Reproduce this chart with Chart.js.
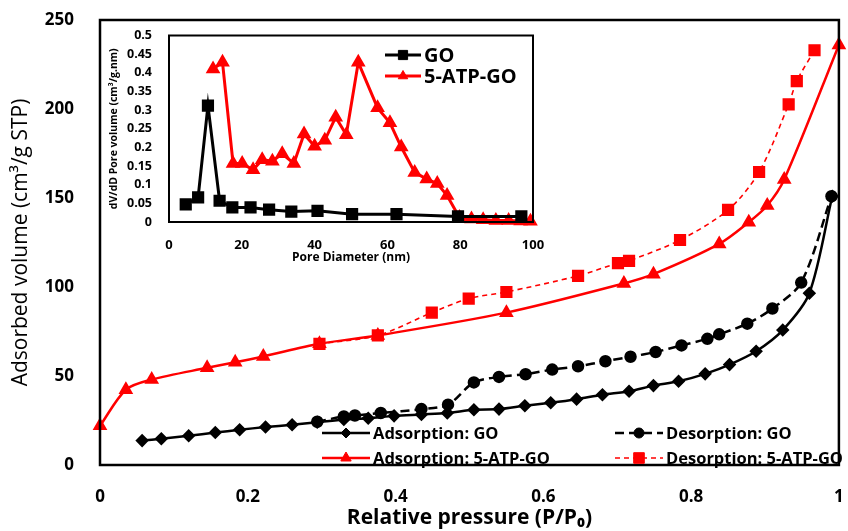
<!DOCTYPE html>
<html>
<head>
<meta charset="utf-8">
<script src="https://cdn.jsdelivr.net/npm/chart.js@4.4.1/dist/chart.umd.min.js"></script>
<style>
  body { margin: 0; background: #fff; }
  #wrap { position: relative; width: 848px; height: 531px; }
  #main { position: absolute; left: 0; top: 0; }
  #inset { position: absolute; left: 106px; top: 26px; }
</style>
</head>
<body>
<div id="wrap">
  <canvas id="main" width="848" height="531"></canvas>
  <canvas id="inset" width="440" height="240"></canvas>
</div>
<script>
// main isotherm data (relative pressure, adsorbed volume)
const adsGoP = [0.057, 0.083, 0.120, 0.156, 0.189, 0.224, 0.260, 0.294, 0.330, 0.363, 0.398, 0.435, 0.470, 0.506, 0.540, 0.575, 0.610, 0.645, 0.680, 0.716, 0.749, 0.783, 0.819, 0.852, 0.888, 0.924, 0.960, 0.991];
const adsGoV = [13.7, 14.8, 16.4, 18.2, 19.8, 21.3, 22.6, 24.0, 25.6, 26.3, 27.6, 28.4, 29.2, 31.0, 31.4, 33.3, 35.0, 37.0, 39.5, 41.4, 44.6, 47.0, 51.2, 56.4, 63.9, 75.8, 96.5, 151];

const desGoP = [0.294, 0.330, 0.345, 0.380, 0.435, 0.471, 0.506, 0.540, 0.576, 0.612, 0.647, 0.684, 0.718, 0.752, 0.787, 0.822, 0.838, 0.876, 0.910, 0.949, 0.990];
const desGoV = [24.3, 27.3, 27.8, 29.2, 31.4, 33.9, 46.4, 49.5, 51.0, 53.6, 55.5, 58.3, 60.8, 63.5, 67.2, 70.9, 73.4, 79.4, 87.9, 102.5, 151];

const adsAtpP = [0.000, 0.035, 0.070, 0.145, 0.183, 0.221, 0.297, 0.376, 0.550, 0.709, 0.749, 0.838, 0.878, 0.903, 0.926, 1.000];
const adsAtpV = [22, 42.3, 48, 54.6, 57.7, 61, 68.1, 72.8, 85.6, 102, 107.2, 124.2, 136.4, 145.8, 160.4, 236];

const desAtpP = [0.297, 0.376, 0.449, 0.499, 0.550, 0.647, 0.701, 0.716, 0.785, 0.850, 0.892, 0.932, 0.943, 0.967];
const desAtpV = [68.1, 72.8, 85.6, 93.5, 97.2, 106.3, 113.4, 114.7, 126.4, 143.3, 164.6, 202.6, 215.7, 233];

// inset pore size distribution
const psdGoD = [4.6, 8.0, 10.7, 13.9, 17.4, 22.4, 27.5, 33.6, 40.8, 50.3, 62.5, 79.4, 96.8];
const psdGoV = [0.047, 0.066, 0.312, 0.057, 0.039, 0.039, 0.033, 0.028, 0.030, 0.021, 0.021, 0.015, 0.015];

const psdAtpD = [12.1, 14.7, 17.6, 20.1, 23.1, 25.6, 28.4, 31.1, 34.3, 37.1, 40.0, 42.8, 45.8, 48.7, 52.0, 57.3, 60.7, 63.8, 67.5, 70.8, 73.7, 76.4, 79.8, 83.1, 86.3, 89.8, 93.3, 96.6, 99.3];
const psdAtpV = [0.41, 0.428, 0.157, 0.157, 0.14, 0.167, 0.163, 0.183, 0.157, 0.236, 0.203, 0.219, 0.281, 0.234, 0.428, 0.306, 0.266, 0.201, 0.133, 0.115, 0.103, 0.071, 0.012, 0.008, 0.006, 0.004, 0.004, 0.003, 0.002];

const mainLabels = ['Adsorption: GO', 'Desorption: GO', 'Adsorption: 5-ATP-GO', 'Desorption: 5-ATP-GO'];
const insetLabels = ['GO', '5-ATP-GO'];

const RED = '#ff0000';
const FONT = "'Open Sans', 'Liberation Sans', sans-serif";

function pts(xs, ys) {
    return xs.map((x, i) => ({ x: x, y: ys[i] }));
}

function trimNum(v) {
    return String(+v.toFixed(2));
}

// fixed axis boxes, no overhang padding from tick labels
function fitX(h) {
    return s => { s.height = h; s.paddingLeft = 0; s.paddingRight = 0; };
}
function fitY(w) {
    return s => { s.width = w; s.paddingTop = 0; s.paddingBottom = 0; };
}

// frame around plot area
const framePlugin = {
    id: 'frame',
    afterDraw(chart, args, opts) {
        const a = chart.chartArea;
        const ctx = chart.ctx;
        ctx.save();
        ctx.strokeStyle = '#000';
        ctx.lineWidth = opts.width || 2;
        ctx.strokeRect(a.left, a.top, a.right - a.left, a.bottom - a.top);
        ctx.restore();
    }
};

// legend drawn at fixed spots, using each dataset's own style
const boxLegend = {
    id: 'boxLegend',
    afterDraw(chart, args, opts) {
        const ctx = chart.ctx;
        opts.items.forEach(it => {
            const ds = chart.data.datasets[it.ds];
            ctx.save();
            ctx.strokeStyle = ds.borderColor;
            ctx.lineWidth = ds.borderWidth;
            ctx.setLineDash(ds.borderDash || []);
            ctx.beginPath();
            ctx.moveTo(it.x, it.y);
            ctx.lineTo(it.x + opts.len, it.y);
            ctx.stroke();
            ctx.setLineDash([]);
            ctx.fillStyle = ds.backgroundColor;
            ctx.lineWidth = 1;
            Chart.helpers.drawPoint(ctx, {
                pointStyle: ds.pointStyle,
                radius: ds.pointRadius,
                rotation: 0,
                borderWidth: 1
            }, it.x + opts.len / 2, it.y);
            ctx.fillStyle = '#000';
            ctx.font = opts.font;
            ctx.textBaseline = 'middle';
            ctx.fillText(ds.label, it.x + opts.len + 3, it.y + 1);
            ctx.restore();
        });
    }
};

new Chart(document.getElementById('main'), {
    type: 'scatter',
    data: {
        datasets: [{
            label: mainLabels[0],
            data: pts(adsGoP, adsGoV),
            showLine: true,
            borderColor: '#000',
            backgroundColor: '#000',
            borderWidth: 2.5,
            pointStyle: 'rectRot',
            pointRadius: 5,
            tension: 0.3,
            clip: false
        }, {
            label: mainLabels[1],
            data: pts(desGoP, desGoV),
            showLine: true,
            borderColor: '#000',
            backgroundColor: '#000',
            borderWidth: 2.5,
            borderDash: [9, 5],
            pointStyle: 'circle',
            pointRadius: 5,
            tension: 0.3,
            clip: false
        }, {
            label: mainLabels[2],
            data: pts(adsAtpP, adsAtpV),
            showLine: true,
            borderColor: RED,
            backgroundColor: RED,
            borderWidth: 2.5,
            pointStyle: 'triangle',
            pointRadius: 6,
            tension: 0.3,
            clip: false
        }, {
            label: mainLabels[3],
            data: pts(desAtpP, desAtpV),
            showLine: true,
            borderColor: RED,
            backgroundColor: RED,
            borderWidth: 1.6,
            borderDash: [5, 4],
            pointStyle: 'rect',
            pointRadius: 7.5,
            tension: 0.3,
            clip: false
        }]
    },
    options: {
        responsive: false,
        animation: false,
        devicePixelRatio: 1,
        layout: { padding: { top: 20, right: 3, left: 0, bottom: 0 } },
        plugins: {
            legend: { display: false },
            tooltip: { enabled: false },
            frame: { width: 2.5 },
            boxLegend: {
                len: 48,
                font: 'bold 16.5px ' + FONT,
                items: [
                    { ds: 0, x: 322, y: 433 },
                    { ds: 1, x: 615, y: 433 },
                    { ds: 2, x: 322, y: 458 },
                    { ds: 3, x: 615, y: 458 }
                ]
            }
        },
        scales: {
            x: {
                type: 'linear',
                min: 0,
                max: 1,
                ticks: {
                    stepSize: 0.2,
                    color: '#000',
                    padding: 14,
                    font: { family: FONT, size: 17, weight: 'bold' },
                    callback: v => trimNum(v)
                },
                grid: { display: false },
                border: { display: false },
                title: {
                    display: true,
                    text: 'Relative pressure (P/P\u2080)',
                    color: '#000',
                    font: { family: FONT, size: 21, weight: 'bold' },
                    padding: { top: 0, bottom: 0 }
                },
                afterFit: fitX(66)
            },
            y: {
                min: 0,
                max: 250,
                ticks: {
                    stepSize: 50,
                    color: '#000',
                    padding: 18,
                    font: { family: FONT, size: 17, weight: 'bold' }
                },
                grid: { display: false },
                border: { display: false },
                title: {
                    display: true,
                    text: 'Adsorbed volume (cm\u00b3/g STP)',
                    color: '#000',
                    font: { family: FONT, size: 21 },
                    padding: { top: 8, bottom: 0 }
                },
                afterFit: fitY(100)
            }
        }
    },
    plugins: [framePlugin, boxLegend]
});

new Chart(document.getElementById('inset'), {
    type: 'scatter',
    data: {
        datasets: [{
            label: insetLabels[0],
            data: pts(psdGoD, psdGoV),
            showLine: true,
            borderColor: '#000',
            backgroundColor: '#000',
            borderWidth: 3,
            pointStyle: 'rect',
            pointRadius: 6.5,
            tension: 0,
            clip: false
        }, {
            label: insetLabels[1],
            data: pts(psdAtpD, psdAtpV),
            showLine: true,
            borderColor: RED,
            backgroundColor: RED,
            borderWidth: 3,
            pointStyle: 'triangle',
            pointRadius: 5.5,
            tension: 0,
            clip: false
        }]
    },
    options: {
        responsive: false,
        animation: false,
        devicePixelRatio: 1,
        layout: { padding: { top: 8, right: 13, left: 0, bottom: 0 } },
        plugins: {
            legend: { display: false },
            tooltip: { enabled: false },
            frame: { width: 2 },
            boxLegend: {
                len: 36,
                font: 'bold 20px ' + FONT,
                items: [
                    { ds: 0, x: 279, y: 29 },
                    { ds: 1, x: 279, y: 50 }
                ]
            }
        },
        scales: {
            x: {
                type: 'linear',
                min: 0,
                max: 100,
                ticks: {
                    stepSize: 20,
                    color: '#000',
                    padding: 7,
                    font: { family: FONT, size: 13, weight: 'bold' }
                },
                grid: { display: false },
                border: { display: false },
                title: {
                    display: true,
                    text: 'Pore Diameter (nm)',
                    color: '#000',
                    font: { family: FONT, size: 12, weight: 'bold' },
                    padding: { top: 0, bottom: 1 }
                },
                afterFit: fitX(44)
            },
            y: {
                min: 0,
                max: 0.5,
                ticks: {
                    stepSize: 0.05,
                    autoSkip: false,
                    color: '#000',
                    padding: 9,
                    font: { family: FONT, size: 12.5, weight: 'bold' },
                    callback: v => trimNum(v)
                },
                grid: { display: false },
                border: { display: false },
                title: {
                    display: true,
                    text: 'dV/dD Pore volume (cm\u00b3/g.nm)',
                    color: '#000',
                    font: { family: FONT, size: 10.5, weight: 'bold' },
                    padding: { top: 2, bottom: 0 }
                },
                afterFit: fitY(63)
            }
        }
    },
    plugins: [framePlugin, boxLegend]
});
</script>
</body>
</html>
